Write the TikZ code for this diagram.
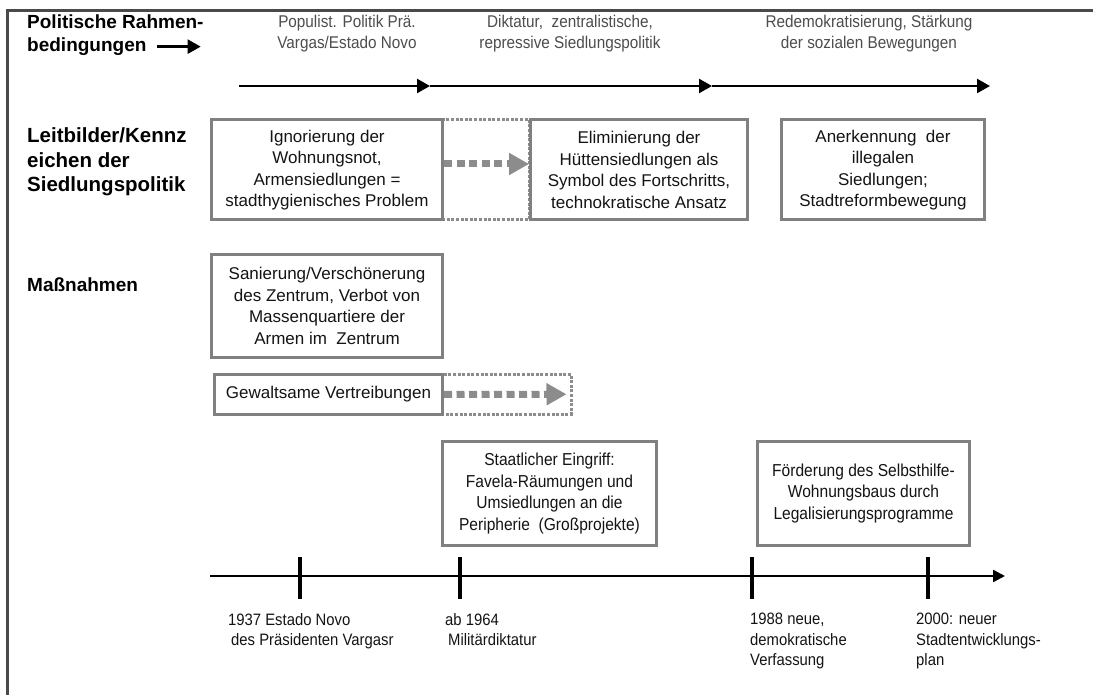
\documentclass[tikz,border=0pt]{standalone}
\usepackage{fontspec}
\setmainfont{Liberation Sans}
\newfontfamily\narrowsans[FakeStretch=0.9]{Liberation Sans}
\usetikzlibrary{arrows.meta}
\definecolor{framec}{HTML}{4A4A4A}
\definecolor{boxc}{HTML}{808080}
\definecolor{dotc}{HTML}{8C8C8C}
\definecolor{perc}{HTML}{4D4D4D}
\definecolor{txtc}{HTML}{141414}
\newcommand\myfbox{\fontsize{17}{21.5}\selectfont}
\newcommand\myfnbox{\narrowsans\fontsize{17.3}{21.5}\selectfont}
\newcommand\myfhead{\fontsize{19}{25}\selectfont\bfseries}
\newcommand\myfheadb{\fontsize{20.5}{24.5}\selectfont\bfseries}
\newcommand\myfper{\narrowsans\fontsize{17}{21.5}\selectfont}
\newcommand\myftl{\narrowsans\fontsize{16.5}{20.5}\selectfont}
\begin{document}
\begin{tikzpicture}[x=1pt,y=-1pt,
 stepbox/.style={draw=boxc, line width=3pt, fill=white, inner sep=0pt, align=center, font=\myfbox, text=txtc, anchor=north west},
 dotbox/.style={draw=dotc, line width=2.5pt, dash pattern=on 3pt off 1.6pt, inner sep=0pt, anchor=north west},
 fatarrow/.style={draw=dotc, line width=7pt, dash pattern=on 8pt off 4.5pt, -{Triangle[length=20pt,width=21pt]}},
 blackarrow/.style={line width=2.4pt, -{Triangle[length=13pt,width=14pt]}},
 head/.style={font=\myfhead, inner sep=0pt, anchor=base west},
 period/.style={font=\myfper, text=perc, align=center, inner sep=0pt},
 tllabel/.style={font=\myftl, text=txtc, align=left, inner sep=0pt, anchor=north west},
 tickmark/.style={line width=4pt},
]
\useasboundingbox (0,0) rectangle (1093,695);
\fill[white] (0,0) rectangle (1093,695);
% frame
\draw[framec, line width=2.5pt] (7.5,695) -- (7.5,10.5) -- (1093,10.5);

% headings
\node[head] (h1a) at (27,28.5) {Politische Rahmen-};
\node[head] (h1b) at (27,51.5) {bedingungen};
\draw[blackarrow] ([xshift=10pt]h1b.east) -- ([xshift=54pt]h1b.east);
\node[head, font=\myfheadb] (h2a) at (27,143) {Leitbilder/Kennz};
\node[head, font=\myfheadb] (h2b) at (27,167.5) {eichen der};
\node[head, font=\myfheadb] (h2c) at (27,192) {Siedlungspolitik};
\node[head] (h3) at (27,292) {Maßnahmen};

% period texts
\node[period] (p1) at (347,33.5) {Populist. Politik Prä.\\Vargas/Estado Novo};
\node[period] (p2) at (570,33.5) {Diktatur,~ zentralistische,\\repressive Siedlungspolitik};
\node[period] (p3) at (869,33.5) {Redemokratisierung, Stärkung\\der sozialen Bewegungen};

% top arrows
\coordinate (a0) at (239,86);
\coordinate (a1) at (430,86);
\coordinate (a2) at (712,86);
\coordinate (a3) at (990,86);
\draw[blackarrow] (a0) -- (a1);
\draw[blackarrow] (a1) -- (a2);
\draw[blackarrow] (a2) -- (a3);

% row 2
\node[dotbox, minimum width=87pt, minimum height=100pt] (d1) at (441,118.5) {};
\node[stepbox, minimum width=231pt, minimum height=100pt] (b1) at (210,118.5)
  {Ignorierung der\\Wohnungsnot,\\Armensiedlungen =\\stadthygienisches Problem};
\node[stepbox, minimum width=217pt, minimum height=100pt] (b2) at (529,118.5)
  {Eliminierung der\\Hüttensiedlungen als\\Symbol des Fortschritts,\\technokratische Ansatz};
\node[stepbox, minimum width=203pt, minimum height=100pt] (b3) at (780,118.5)
  {Anerkennung~ der\\illegalen\\Siedlungen;\\Stadtreformbewegung};
\draw[fatarrow] ([yshift=6pt]b1.east) -- ([yshift=6pt]b2.west);

% row 3
\node[stepbox, minimum width=231pt, minimum height=102pt] (b4) at (210,253.5)
  {Sanierung/Verschönerung\\des Zentrum, Verbot von\\Massenquartiere der\\Armen im~ Zentrum};
\node[dotbox, minimum width=130pt, minimum height=40pt] (d2) at (440,373) {};
\node[stepbox, minimum width=228pt, minimum height=40pt] (b5) at (213,373)
  {Gewaltsame Vertreibungen};
\draw[fatarrow] (b5.east) -- ([xshift=-6pt]d2.east);

% row 4
\node[stepbox, font=\myfnbox, minimum width=214pt, minimum height=104pt] (b6) at (441,440)
  {Staatlicher Eingriff:\\Favela-Räumungen und\\Umsiedlungen an die\\Peripherie~ (Großprojekte)};
\node[stepbox, font=\myfnbox, minimum width=212pt, minimum height=104pt] (b7) at (756,440)
  {Förderung des Selbsthilfe-\\Wohnungsbaus durch\\Legalisierungsprogramme};

% timeline
\coordinate (t0) at (210,576);
\coordinate (t1) at (1005,576);
\draw[line width=2.5pt, -{Triangle[length=12pt,width=12pt]}] (t0) -- (t1);
\foreach \k/\xx in {1/300,2/460,3/752,4/928}{
  \coordinate (k\k a) at (\xx,557);
  \coordinate (k\k b) at (\xx,599);
  \draw[tickmark] (k\k a) -- (k\k b);
}
\node[tllabel] (l1) at (228,613) {1937 Estado Novo\\\hspace*{3pt}des Präsidenten Vargasr};
\node[tllabel] (l2) at (445,613) {ab 1964\\\hspace*{3pt}Militärdiktatur};
\node[tllabel] (l3) at (750,613) {1988 neue,\\demokratische\\Verfassung};
\node[tllabel] (l4) at (916,613) {2000: neuer\\Stadtentwicklungs-\\plan};
\end{tikzpicture}
\end{document}
